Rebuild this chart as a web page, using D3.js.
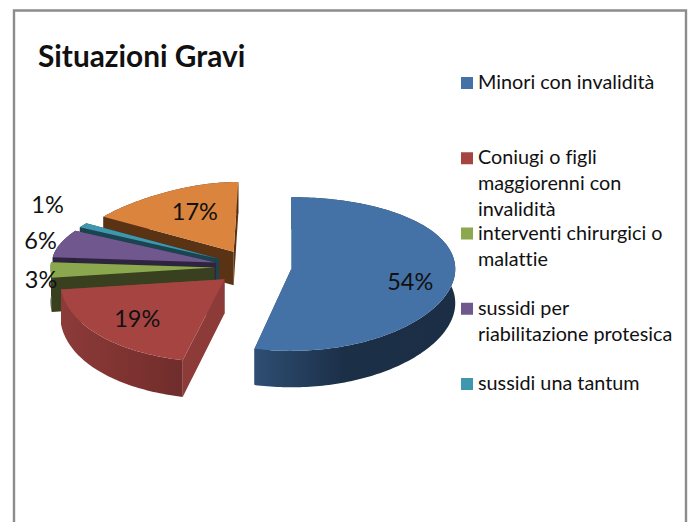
<!DOCTYPE html>
<html>
<head>
<meta charset="utf-8">
<script src="https://cdn.jsdelivr.net/npm/d3@7"></script>
<style>
html, body { margin: 0; padding: 0; background: #fff; }
svg { display: block; }
text { font-family: Lato, "Open Sans", sans-serif; fill: #111; font-variant-ligatures: none; }
</style>
</head>
<body>
<svg id="chart" width="688" height="522"></svg>
<script>
// values, printed labels are rounded
var values = [53.6, 19.3, 3.2, 6, 1, 16.9];
var labels = ["54%", "19%", "3%", "6%", "1%", "17%"];
var legendLines = [
    ["Minori con invalidità"],
    ["Coniugi o figli", "maggiorenni con", "invalidità"],
    ["interventi chirurgici o", "malattie"],
    ["sussidi per", "riabilitazione protesica"],
    ["sussidi una tantum"]
];

var topColors = ["#4472a6", "#a64442", "#8ba84e", "#70588f", "#3f97ae", "#da843d"];
var sideColors = ["#1b2f47", "#7e3331", "#38401f", "#2f2440", "#1a4450", "#5a3315"];
var edgeColors = ["#2e4e73", "#8c3b39", "#38401f", "#2f2440", "#1a4450", "#5a3315"];

// pie geometry, worked out from the ellipse in the picture
var cx = 253, cy = 267;
var radius = 164, explode = 38.5, depth = 34;
var tilt = 0.465, persp = 0.065;

// label placement relative to each slice (radius fraction, then nudge)
var labelR = [0.73, 0.62, 1.07, 1.1, 1.19, 0.55];
var labelDx = [0, -10, 2, -5, -13, 2];
var labelDy = [6, 5, 9, -2, -15, -7];

var svg = d3.select("#chart");
var defs = svg.append("defs");

var color = d3.scaleOrdinal().domain(d3.range(values.length)).range(topColors);

var pie = d3.pie().sort(null).value(function(d) { return d; });
var slices = pie(values);

// ground plane point -> screen, y grows towards the viewer
function project(x, y, z) {
    var w = 1 / (1 - persp * y / radius);
    var t = (y / radius) * (y / radius);
    var wx = 1;
    if (x < 0) wx = y < 0 ? 1 - 0.17 * t : 1 + 0.06 * t; //left side bends with the perspective
    return [cx + x * wx, cy + tilt * y * w + z * w];
}

function point(s, angle, r, z) {
    var mid = (s.startAngle + s.endAngle) / 2;
    var x = explode * Math.sin(mid) + r * Math.sin(angle);
    var y = -explode * Math.cos(mid) - r * Math.cos(angle);
    return project(x, y, z);
}

function arcAngles(s) {
    var n = Math.ceil((s.endAngle - s.startAngle) / 0.02);
    return d3.range(n + 1).map(function(i) {
        return s.startAngle + (s.endAngle - s.startAngle) * i / n;
    });
}

var line = d3.line();

function topPath(s) {
    var pts = arcAngles(s).map(function(a) { return point(s, a, radius, 0); });
    pts.unshift(point(s, 0, 0, 0));
    return line(pts) + "Z";
}

function edgePath(s, a) {
    return line([point(s, a, 0, 0), point(s, a, radius, 0), point(s, a, radius, depth), point(s, a, 0, depth)]) + "Z";
}

function wallPath(s) {
    var as = arcAngles(s);
    var upper = as.map(function(a) { return point(s, a, radius, 0); });
    var lower = as.slice().reverse().map(function(a) { return point(s, a, radius, depth); });
    return line(upper.concat(lower)) + "Z";
}

// wall shading
slices.forEach(function(s, i) {
    var g = defs.append("linearGradient").attr("id", "wall" + i);
    g.append("stop").attr("offset", "0%").attr("stop-color", i == 0 ? "#2e4e73" : edgeColors[i]);
    g.append("stop").attr("offset", i == 0 ? "45%" : "55%").attr("stop-color", sideColors[i]);
    g.append("stop").attr("offset", "100%").attr("stop-color", i == 0 ? "#1b2e46" : d3.rgb(sideColors[i]).darker(0.35));
});

// frame, the bottom edge is cut off in the original
var frame = svg.append("g").attr("fill", "none").attr("stroke", "#8c8c8c").attr("stroke-width", 2.4);
frame.append("path").attr("d", line([[14, 522], [14, 10.5], [686, 10.5], [686, 522]]));

svg.append("text")
    .attr("x", 38).attr("y", 67)
    .attr("font-size", 29.8).attr("font-weight", 700)
    .text("Situazioni Gravi");

// back to front: orange first, blue last
var order = [5, 4, 3, 2, 1, 0];
var pieG = svg.append("g");
order.forEach(function(i) {
    var s = slices[i];
    var g = pieG.append("g");
    g.append("path").attr("d", edgePath(s, s.startAngle)).attr("fill", edgeColors[i]);
    g.append("path").attr("d", edgePath(s, s.endAngle)).attr("fill", edgeColors[i]);
    g.append("path").attr("d", wallPath(s)).attr("fill", "url(#wall" + i + ")");
    g.append("path").attr("d", topPath(s)).attr("fill", color(i));
});

// percent labels
slices.forEach(function(s, i) {
    var mid = (s.startAngle + s.endAngle) / 2;
    var p = point(s, mid, radius * labelR[i], 0);
    svg.append("text")
        .attr("x", p[0] + labelDx[i]).attr("y", p[1] + labelDy[i])
        .attr("text-anchor", "middle").attr("dominant-baseline", "central")
        .attr("font-size", 23.5)
        .text(labels[i]);
});

// legend
var legendY = d3.scalePoint().domain(d3.range(legendLines.length)).range([89, 390]);
var legend = svg.append("g").selectAll("g").data(legendLines).join("g")
    .attr("transform", function(d, i) { return "translate(461," + legendY(i) + ")"; });
legend.append("rect")
    .attr("x", 0).attr("y", -12).attr("width", 12).attr("height", 12)
    .attr("fill", function(d, i) { return color(i); });
legend.append("text")
    .attr("font-size", 19.8)
    .selectAll("tspan").data(function(d) { return d; }).join("tspan")
    .attr("x", 17)
    .attr("dy", function(d, i) { return i ? 26 : 0; })
    .text(function(d) { return d; });
</script>
</body>
</html>
